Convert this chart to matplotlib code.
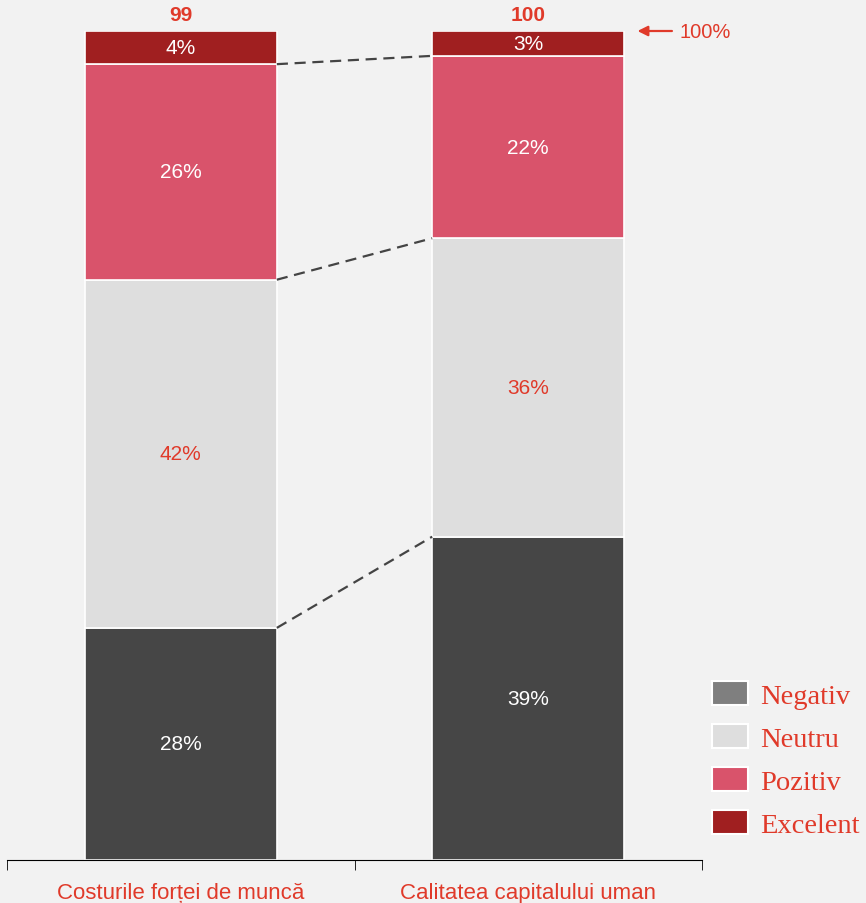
import matplotlib
matplotlib.use('Agg')
import matplotlib.pyplot as plt
from matplotlib.patches import Patch
import numpy as np

plt.rcParams['font.family'] = ['Liberation Sans', 'DejaVu Sans']

categorii = ['Costurile forței de muncă', 'Calitatea capitalului uman']
serii = ['Negativ', 'Neutru', 'Pozitiv', 'Excelent']
negativ = [28, 39]
neutru = [42, 36]
pozitiv = [26, 22]
excelent = [4, 3]
totaluri = [99, 100]

culori_bare = ['#464646', '#dedede', '#d9536b', '#a01f20']
culori_legenda = ['#7f7f7f', '#dedede', '#d9536b', '#a01f20']
culori_text = ['white', '#e03a2a', 'white', 'white']
rosu = '#e03a2a'
fundal = '#f2f2f2'

valori = [negativ, neutru, pozitiv, excelent]

fig = plt.figure(figsize=(8.66, 9.04), dpi=100, facecolor=fundal)
ax = fig.add_axes([7 / 866, 43 / 904, 695 / 866, 829 / 904])
ax.set_facecolor(fundal)

x = np.arange(len(categorii))
latime = 0.553
baza = np.zeros(len(categorii))
varfuri = []
for val, cb, ct in zip(valori, culori_bare, culori_text):
    val = np.array(val, dtype=float)
    ax.bar(x, val, latime, bottom=baza, color=cb, edgecolor='white', linewidth=1.2)
    for xi, b, v in zip(x, baza, val):
        ax.text(xi, b + v / 2, f'{int(v)}%', ha='center', va='center',
                color=ct, fontsize=15)
    baza = baza + val
    varfuri.append(baza.copy())

# linii punctate intre segmente
for v in varfuri[:-1]:
    ax.plot([x[0] + latime / 2, x[1] - latime / 2], [v[0], v[1]],
            ls=(0, (5, 3)), color='#444444', lw=1.6)

for xi, t, top in zip(x, totaluri, baza):
    ax.text(xi, top + 0.85, str(t), ha='center', va='bottom', color=rosu,
            fontsize=15, fontweight='bold')

ax.annotate('', xy=(x[1] + latime / 2 + 0.03, baza[1]),
            xytext=(x[1] + latime / 2 + 0.145, baza[1]),
            arrowprops=dict(arrowstyle='-|>', color=rosu, lw=1.6,
                            mutation_scale=15))
ax.text(x[1] + latime / 2 + 0.16, baza[1], '100%', ha='left', va='center',
        color=rosu, fontsize=14.5)

ax.set_xlim(-0.5, 1.5)
ax.set_ylim(0, 100)
ax.set_yticks([])
for s in ['top', 'right', 'left']:
    ax.spines[s].set_visible(False)
ax.spines['bottom'].set_color('black')
ax.set_xticks(x)
ax.set_xticklabels(categorii, color=rosu, fontsize=16)
ax.tick_params(axis='x', which='major', length=0, pad=16)
ax.set_xticks([-0.5, 0.5, 1.5], minor=True)
ax.tick_params(axis='x', which='minor', length=7, direction='out', color='black')

handles = [Patch(facecolor=c, edgecolor='white', linewidth=1.5) for c in culori_legenda]
fig.legend(handles, serii, loc='upper left', bbox_to_anchor=(712 / 866, 1 - 682 / 904),
           frameon=False, prop={'family': 'Liberation Serif', 'size': 20.5},
           labelcolor=rosu, handlelength=1.28, handleheight=0.9,
           labelspacing=0.54, handletextpad=0.4, borderaxespad=0,
           borderpad=0)

fig.savefig('out.png', dpi=100, facecolor=fundal)
